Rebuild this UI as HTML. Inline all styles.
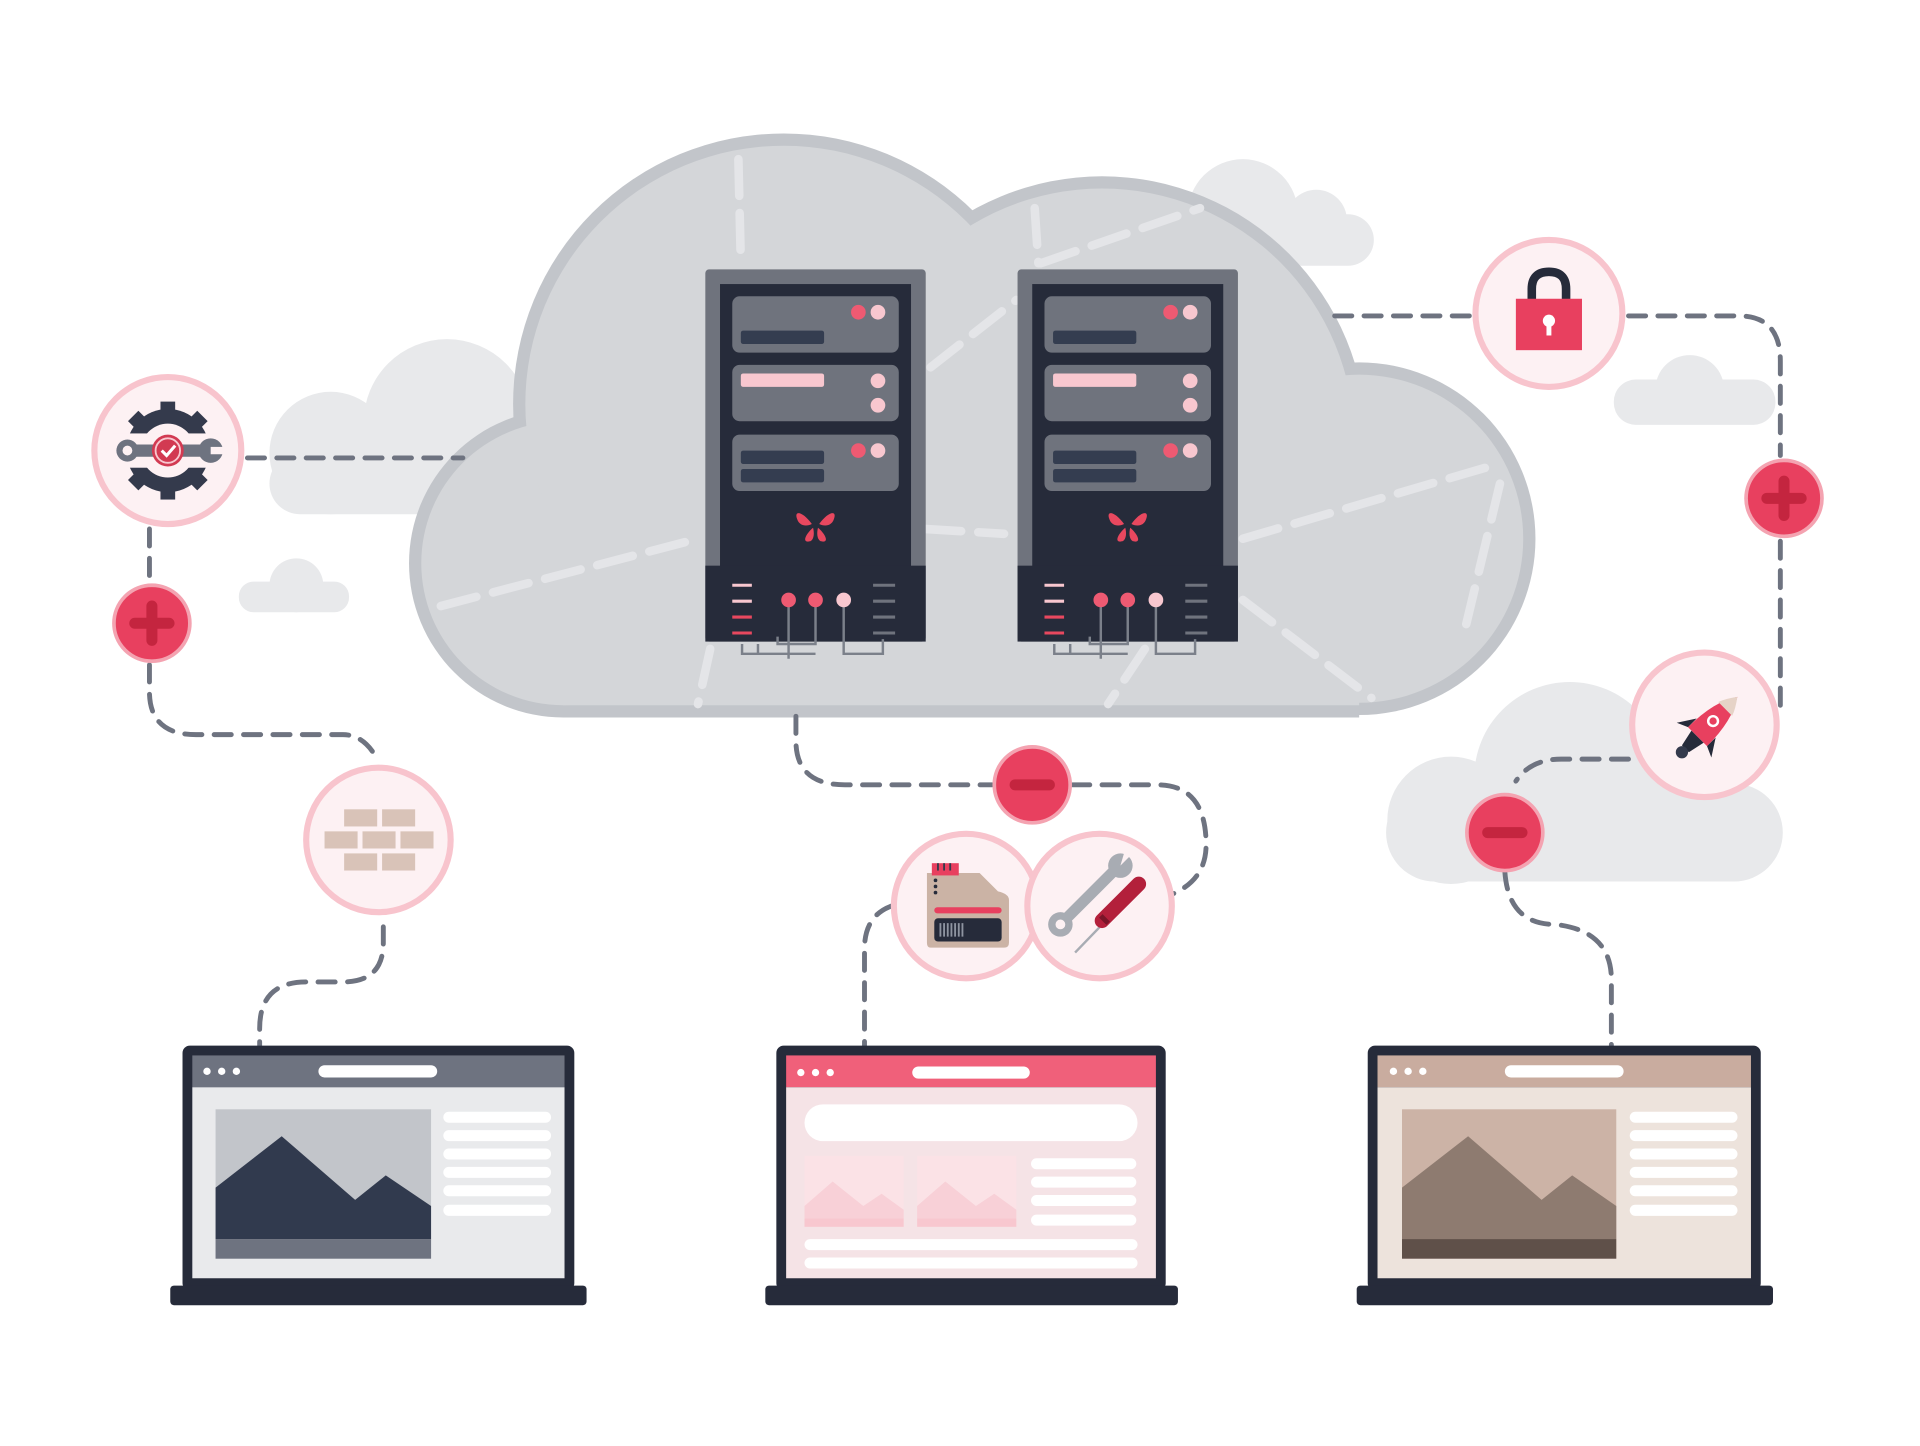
<!DOCTYPE html>
<html><head><meta charset="utf-8"><style>html,body{margin:0;padding:0;background:#fff}svg{display:block}</style></head>
<body>
<svg width="1920" height="1446" viewBox="0 0 1568 1181" xmlns="http://www.w3.org/2000/svg">
<defs>
<g id="srv">
  <rect x="0" y="0" width="180" height="304" rx="3" fill="#6f737d"/>
  <rect x="12" y="12" width="156" height="285" fill="#262b3a"/>
  <rect x="22" y="22" width="136" height="46" rx="6" fill="#6f737d"/>
  <rect x="29" y="50" width="68" height="11" rx="2" fill="#343d50"/>
  <circle cx="125" cy="35" r="6" fill="#ee5a72"/><circle cx="141" cy="35" r="6" fill="#f8c7cf"/>
  <rect x="22" y="78" width="136" height="46" rx="6" fill="#6f737d"/>
  <rect x="29" y="85" width="68" height="11" rx="2" fill="#f8c7cf"/>
  <circle cx="141" cy="91" r="6" fill="#f8c7cf"/><circle cx="141" cy="111" r="6" fill="#f8c7cf"/>
  <rect x="22" y="135" width="136" height="46" rx="6" fill="#6f737d"/>
  <rect x="29" y="148" width="68" height="11" rx="2" fill="#343d50"/>
  <rect x="29" y="163" width="68" height="11" rx="2" fill="#343d50"/>
  <circle cx="125" cy="148" r="6" fill="#ee5a72"/><circle cx="141" cy="148" r="6" fill="#f8c7cf"/>
  <g fill="#e8485f" transform="translate(90,208)">
    <path d="M-3,0 C-10,-10 -18,-12 -15,-4 C-13,2 -7,2 -3,0Z"/>
    <path d="M3,0 C10,-10 18,-12 15,-4 C13,2 7,2 3,0Z"/>
    <path d="M-2,3 C-8,8 -12,16 -4,14 C-1,12 -1,7 -2,3Z"/>
    <path d="M2,3 C8,8 12,16 4,14 C1,12 1,7 2,3Z"/>
  </g>
  <rect x="0" y="242" width="180" height="62" fill="#262b3a"/>
  <g stroke-width="2.5"><line x1="22" y1="258" x2="38" y2="258" stroke="#f8c7cf"/><line x1="22" y1="271" x2="38" y2="271" stroke="#f8c7cf"/>
  <line x1="22" y1="284" x2="38" y2="284" stroke="#e8485f"/><line x1="22" y1="297" x2="38" y2="297" stroke="#e8485f"/>
  <line x1="137" y1="258" x2="155" y2="258" stroke="#6f737d"/><line x1="137" y1="271" x2="155" y2="271" stroke="#6f737d"/>
  <line x1="137" y1="284" x2="155" y2="284" stroke="#6f737d"/><line x1="137" y1="297" x2="155" y2="297" stroke="#6f737d"/></g>
  <path d="M68,270 V318 M90,270 V306 H59 V300 M113,270 V314 H145 V302 M43,306 V314 H90 M30,306 v8 h15" fill="none" stroke="#7b808a" stroke-width="2"/>
  <circle cx="68" cy="270" r="6" fill="#ee5a72"/><circle cx="90" cy="270" r="6" fill="#ee5a72"/><circle cx="113" cy="270" r="6" fill="#f8c7cf"/>
</g>
</defs>

<!-- background clouds -->
<g fill="#e8e9eb">
  <circle cx="365" cy="345" r="68"/><circle cx="270" cy="370" r="50"/><rect x="220" y="370" width="220" height="50" rx="25"/>
  <circle cx="1015" cy="175" r="45"/><circle cx="1075" cy="180" r="25"/><rect x="970" y="175" width="152" height="42" rx="21"/>
  <circle cx="1380" cy="318" r="28"/><rect x="1318" y="310" width="132" height="37" rx="18"/>
  <circle cx="242" cy="478" r="22"/><rect x="195" y="475" width="90" height="25" rx="12"/>
  <circle cx="1282" cy="635" r="78"/><circle cx="1185" cy="670" r="52"/><rect x="1132" y="640" width="324" height="80" rx="40"/>
</g>

<!-- main cloud outline + fill -->
<g fill="#c2c5ca">
  <circle cx="460" cy="460" r="126"/><circle cx="640" cy="330" r="221"/><circle cx="900" cy="360" r="216"/><circle cx="1110" cy="440" r="144"/><rect x="460" y="434" width="650" height="152"/>
</g>
<g fill="#d4d6d9">
  <circle cx="460" cy="460" r="116"/><circle cx="640" cy="330" r="211"/><circle cx="900" cy="360" r="206"/><circle cx="1110" cy="440" r="134"/><rect x="460" y="444" width="650" height="132"/>
</g>
<g fill="none" stroke="#e4e5e8" stroke-width="7" stroke-dasharray="30 14" stroke-linecap="round">
  <path d="M360,495 L570,440"/><path d="M755,432 L820,436"/><path d="M1015,440 L1220,380"/>
  <path d="M603,130 L605,215"/><path d="M850,215 L980,170"/><path d="M845,170 L848,215"/>
  <path d="M1225,395 L1195,520"/><path d="M1015,490 L1120,570"/><path d="M580,530 L570,575"/><path d="M935,530 L905,575"/>
  <path d="M760,300 L830,245"/>
</g>

<use href="#srv" x="576" y="220"/>
<use href="#srv" x="831" y="220"/>

<!-- connectors -->
<g fill="none" stroke="#6e7380" stroke-width="4" stroke-dasharray="14 10" stroke-linecap="round">
  <path d="M202,374 H378"/>
  <path d="M122,432 V475"/>
  <path d="M122,543 V565 Q122,600 160,600 H280 Q295,600 305,615"/>
  <path d="M313,757 V770 Q313,802 280,802 H250 Q212,802 212,840 V855"/>
  <path d="M650,585 V605 Q650,641 690,641 H810"/>
  <path d="M876,641 H945 Q985,641 985,690 Q985,718 958,730"/>
  <path d="M728,740 Q706,748 706,775 V855"/>
  <path d="M1090,258 H1200"/>
  <path d="M1330,258 H1420 Q1454,258 1454,295 V372"/>
  <path d="M1454,442 V585"/>
  <path d="M1330,620 H1275 Q1250,620 1238,638"/>
  <path d="M1229,712 Q1232,755 1270,755 Q1316,760 1316,800 V855"/>
</g>

<!-- icon circles -->
<g fill="#fdf1f3" stroke="#f8c4cd" stroke-width="5">
  <circle cx="137" cy="368" r="60"/><circle cx="309" cy="686" r="59"/><circle cx="789" cy="740" r="59"/><circle cx="898" cy="740" r="59"/>
  <circle cx="1265" cy="256" r="60"/><circle cx="1392" cy="592" r="59"/>
</g>
<g fill="#e8405f" stroke="#f4a3b1" stroke-width="3">
  <circle cx="124" cy="509" r="31"/><circle cx="1457" cy="407" r="31"/><circle cx="843" cy="641" r="31"/><circle cx="1229" cy="680" r="31"/>
</g>
<g stroke="#c4253f" stroke-width="9" stroke-linecap="round">
  <path d="M110,509 H138 M124,495 V523"/><path d="M1443,407 H1471 M1457,393 V421"/>
  <path d="M829,641 H857"/><path d="M1215,680 H1243"/>
</g>

<!-- gear icon -->
<g transform="translate(137,368)">
  <circle r="34" fill="#343a4c"/>
  <g fill="#343a4c"><rect x="-6" y="-40" width="12" height="12"/><rect x="-6" y="28" width="12" height="12"/>
  <rect x="-6" y="-40" width="12" height="12" transform="rotate(45)"/><rect x="-6" y="-40" width="12" height="12" transform="rotate(-45)"/>
  <rect x="-6" y="28" width="12" height="12" transform="rotate(45)"/><rect x="-6" y="28" width="12" height="12" transform="rotate(-45)"/></g>
  <circle r="22" fill="#fdf1f3"/>
  <rect x="-45" y="-14" width="90" height="28" fill="#fdf1f3"/>
  <rect x="-38" y="-5" width="76" height="10" rx="5" fill="#6e7380"/>
  <circle cx="-33" r="9" fill="#6e7380"/><circle cx="-33" r="4" fill="#fdf1f3"/>
  <circle cx="35" r="10" fill="#6e7380"/><rect x="35" y="-3" width="12" height="6" fill="#fdf1f3"/>
  <circle r="13" fill="#d23a52"/><circle r="10" fill="none" stroke="#f8c7cf" stroke-width="1.5"/>
  <path d="M-5,0 L-1,4 L6,-4" fill="none" stroke="#fff" stroke-width="2.5"/>
</g>

<!-- bricks -->
<g fill="#d9c3b8">
  <rect x="281" y="661" width="27" height="14"/><rect x="312" y="661" width="27" height="14"/>
  <rect x="265" y="679" width="27" height="14"/><rect x="296" y="679" width="27" height="14"/><rect x="327" y="679" width="27" height="14"/>
  <rect x="281" y="697" width="27" height="14"/><rect x="312" y="697" width="27" height="14"/>
</g>

<!-- document -->
<g>
  <path d="M757,713 H800 L815,728 Q824,730 824,735 V770 Q824,774 820,774 H760 Q757,774 757,770Z" fill="#cbb3a5"/>
  <rect x="761" y="705" width="22" height="10" fill="#e8405f"/>
  <g stroke="#343a4c" stroke-width="1.5"><line x1="766" y1="705" x2="766" y2="711"/><line x1="771" y1="705" x2="771" y2="711"/><line x1="776" y1="705" x2="776" y2="711"/></g>
  <circle cx="764" cy="719" r="1.5" fill="#262b3a"/><circle cx="764" cy="724" r="1.5" fill="#262b3a"/><circle cx="764" cy="729" r="1.5" fill="#262b3a"/>
  <rect x="763" y="741" width="55" height="5" rx="2.5" fill="#e8405f"/>
  <rect x="763" y="750" width="55" height="19" rx="3" fill="#262b3a"/>
  <g stroke="#8e94a0" stroke-width="1.5"><path d="M768,754v11M771,754v11M774,754v11M777,754v11M780,754v11M783,754v11M786,754v11"/></g>
</g>
<!-- tools -->
<g>
  <path d="M866,755 L910,711" stroke="#a8acb3" stroke-width="9" stroke-linecap="round"/>
  <circle cx="866" cy="755" r="10" fill="#a8acb3"/><circle cx="866" cy="755" r="4" fill="#fdf1f3"/>
  <circle cx="915" cy="707" r="10" fill="#a8acb3"/><path d="M915,707 L928,694 L920,690Z" fill="#fdf1f3"/>
  <path d="M878,778 L905,750" stroke="#a8acb3" stroke-width="2"/>
  <path d="M900,752 L930,722" stroke="#b3203b" stroke-width="12" stroke-linecap="round"/>
  <path d="M899,748 L905,754" stroke="#7a1528" stroke-width="4"/>
</g>

<!-- lock -->
<g>
  <path d="M1251,245 V236 Q1251,222 1265,222 Q1279,222 1279,236 V245" fill="none" stroke="#262b3a" stroke-width="7"/>
  <rect x="1238" y="244" width="54" height="42" fill="#e8405f"/>
  <circle cx="1265" cy="262" r="5" fill="#fff"/><rect x="1263" y="262" width="4" height="12" fill="#fff"/>
</g>

<!-- rocket -->
<g transform="translate(1392,596) rotate(45)">
  <path d="M0,-38 Q11,-22 11,8 H-11 Q-11,-22 0,-38Z" fill="#e8405f"/>
  <path d="M0,-38 Q6,-30 8,-24 H-8 Q-6,-30 0,-38Z" fill="#e6d3c7"/>
  <circle cx="0" cy="-10" r="5" fill="#fff"/><circle cx="0" cy="-10" r="3" fill="#e8405f"/>
  <path d="M-11,-2 L-20,12 L-11,8Z M11,-2 L20,12 L11,8Z" fill="#262b3a"/>
  <path d="M-7,8 L7,8 L4,22 L-4,22Z" fill="#262b3a"/>
  <circle cx="0" cy="26" r="5" fill="#343a4c"/>
</g>

<!-- laptop 1 -->
<g>
  <rect x="149" y="854" width="320" height="200" rx="6" fill="#262b3a"/>
  <rect x="157" y="862" width="304" height="26" fill="#6e7380"/>
  <circle cx="169" cy="875" r="3" fill="#fff"/><circle cx="181" cy="875" r="3" fill="#fff"/><circle cx="193" cy="875" r="3" fill="#fff"/>
  <rect x="260" y="870" width="97" height="10" rx="5" fill="#fff"/>
  <rect x="157" y="888" width="304" height="156" fill="#e9eaec"/>
  <rect x="176" y="906" width="176" height="122" fill="#c2c5ca"/>
  <path d="M176,970 L230,928 L290,980 L315,960 L352,985 V1012 H176Z" fill="#313a4e"/>
  <rect x="176" y="1012" width="176" height="16" fill="#6e7380"/>
  <g fill="#fff"><rect x="362" y="908" width="88" height="9" rx="4.5"/><rect x="362" y="923" width="88" height="9" rx="4.5"/><rect x="362" y="938" width="88" height="9" rx="4.5"/><rect x="362" y="953" width="88" height="9" rx="4.5"/><rect x="362" y="968" width="88" height="9" rx="4.5"/><rect x="362" y="984" width="88" height="9" rx="4.5"/></g>
  <rect x="139" y="1050" width="340" height="16" rx="3" fill="#262b3a"/>
</g>
<!-- laptop 2 -->
<g>
  <rect x="634" y="854" width="318" height="200" rx="6" fill="#262b3a"/>
  <rect x="642" y="862" width="302" height="26" fill="#f0607a"/>
  <circle cx="654" cy="876" r="3" fill="#fff"/><circle cx="666" cy="876" r="3" fill="#fff"/><circle cx="678" cy="876" r="3" fill="#fff"/>
  <rect x="745" y="871" width="96" height="10" rx="5" fill="#fff"/>
  <rect x="642" y="888" width="302" height="156" fill="#f5e3e6"/>
  <rect x="657" y="902" width="272" height="30" rx="15" fill="#fff"/>
  <rect x="657" y="944" width="81" height="58" fill="#fbe2e6"/><path d="M657,985 L680,965 L705,985 L720,975 L738,988 V995 H657Z" fill="#f8d0d7"/><rect x="657" y="995" width="81" height="7" fill="#f8c7cf"/>
  <rect x="749" y="944" width="81" height="58" fill="#fbe2e6"/><path d="M749,985 L772,965 L797,985 L812,975 L830,988 V995 H749Z" fill="#f8d0d7"/><rect x="749" y="995" width="81" height="7" fill="#f8c7cf"/>
  <g fill="#fff"><rect x="842" y="946" width="86" height="9" rx="4.5"/><rect x="842" y="961" width="86" height="9" rx="4.5"/><rect x="842" y="976" width="86" height="9" rx="4.5"/><rect x="842" y="992" width="86" height="9" rx="4.5"/>
  <rect x="657" y="1012" width="272" height="9" rx="4.5"/><rect x="657" y="1027" width="272" height="9" rx="4.5"/></g>
  <rect x="625" y="1050" width="337" height="16" rx="3" fill="#262b3a"/>
</g>
<!-- laptop 3 -->
<g>
  <rect x="1117" y="854" width="321" height="200" rx="6" fill="#262b3a"/>
  <rect x="1125" y="862" width="305" height="26" fill="#c9ac9f"/>
  <circle cx="1138" cy="875" r="3" fill="#fff"/><circle cx="1150" cy="875" r="3" fill="#fff"/><circle cx="1162" cy="875" r="3" fill="#fff"/>
  <rect x="1229" y="870" width="97" height="10" rx="5" fill="#fff"/>
  <rect x="1125" y="888" width="305" height="156" fill="#ede3dc"/>
  <rect x="1145" y="906" width="175" height="122" fill="#ccb3a6"/>
  <path d="M1145,970 L1199,928 L1259,980 L1284,960 L1320,985 V1012 H1145Z" fill="#8e7b70"/>
  <rect x="1145" y="1012" width="175" height="16" fill="#5f5049"/>
  <g fill="#fff"><rect x="1331" y="908" width="88" height="9" rx="4.5"/><rect x="1331" y="923" width="88" height="9" rx="4.5"/><rect x="1331" y="938" width="88" height="9" rx="4.5"/><rect x="1331" y="953" width="88" height="9" rx="4.5"/><rect x="1331" y="968" width="88" height="9" rx="4.5"/><rect x="1331" y="984" width="88" height="9" rx="4.5"/></g>
  <rect x="1108" y="1050" width="340" height="16" rx="3" fill="#262b3a"/>
</g>
</svg>
</body></html>
